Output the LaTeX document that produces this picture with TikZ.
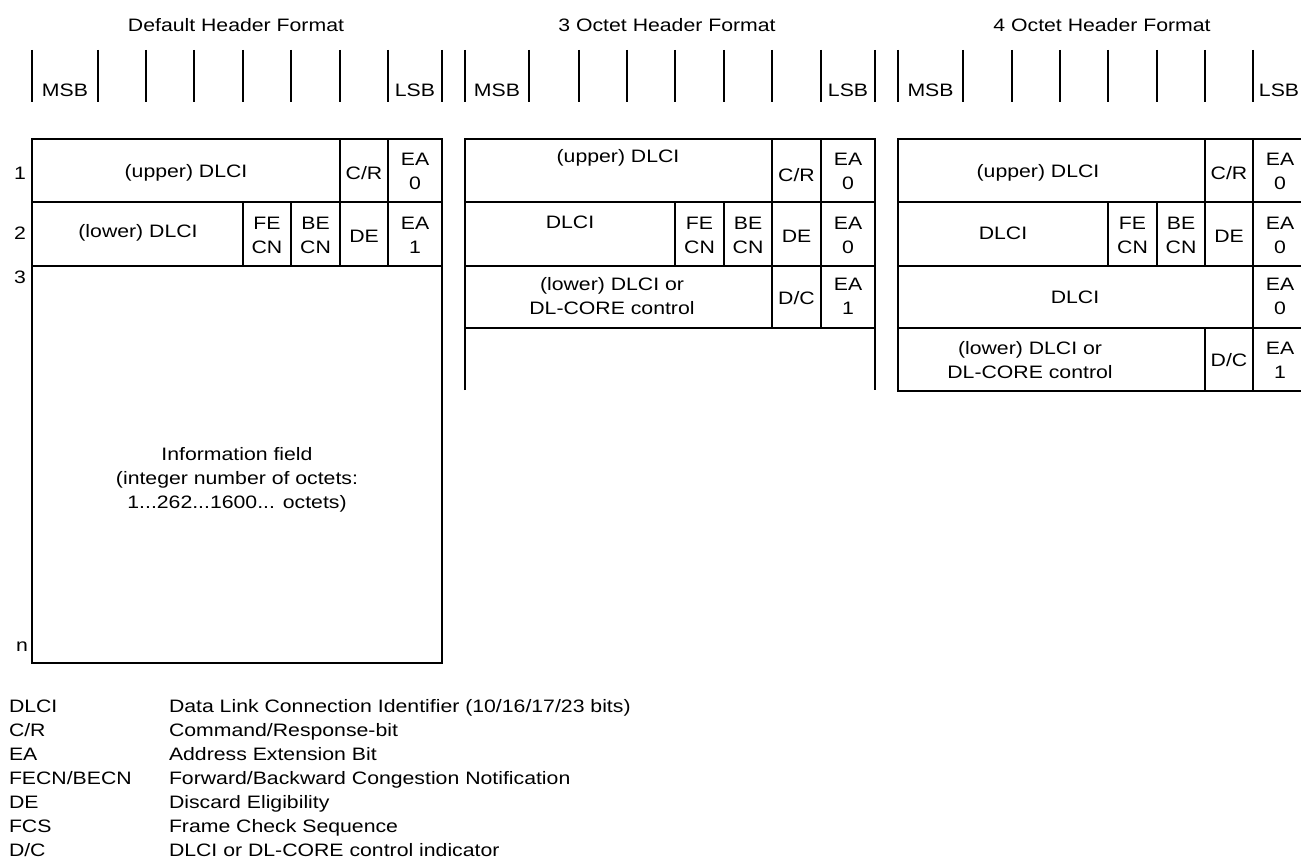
\documentclass[tikz,border=0pt]{standalone}
\usepackage{fontspec}
\setmainfont{Liberation Sans}[FakeStretch=1.18]
\begin{document}
\begin{tikzpicture}[x=0.75pt,y=-0.75pt,line width=1.5pt,
  txt/.style={font=\fontsize{13.5}{18}\selectfont,inner sep=0pt,align=center},
  lg/.style={font=\fontsize{13.5}{18}\selectfont,inner sep=0pt,anchor=base west}]
\useasboundingbox (0,0) rectangle (1301,859);
% bit ticks
\foreach \x in {32,98,146,194,243,291,340,388,442,465,529,579,627,675,724,772,821,875,898,963,1012,1060,1108,1157,1205,1253}
  \draw (\x,50) -- (\x,102);
% titles
\node[txt] (t1) at (236,25) {Default Header Format};
\node[txt] (t2) at (667,25) {3 Octet Header Format};
\node[txt] (t3) at (1102,25) {4 Octet Header Format};
\node[txt] (m1) at (65,90) {MSB};
\node[txt] (l1) at (415,90) {LSB};
\node[txt] (m2) at (497,90) {MSB};
\node[txt] (l2) at (848,90) {LSB};
\node[txt] (m3) at (930.5,90) {MSB};
\node[txt] (l3) at (1279,90) {LSB};
% default box
\draw (32,139) rectangle (442,663);
\draw (32,202) -- (442,202);
\draw (32,266) -- (442,266);
\draw (340,139) -- (340,266);
\draw (388,139) -- (388,266);
\draw (243,202) -- (243,266);
\draw (291,202) -- (291,266);
\node[txt] (r1) at (20,173) {1};
\node[txt] (r2) at (20,233) {2};
\node[txt] (r3) at (20,277) {3};
\node[txt] (rn) at (22,647) {n};
\node[txt] (a1) at (186,173) {(upper) DLCI};
\node[txt] (a2) at (364,173) {C/R};
\node[txt] (a3) at (415,171.5) {EA\\0};
\node[txt] (a4) at (138,233) {(lower) DLCI};
\node[txt] (a5) at (267,235) {FE\\CN};
\node[txt] (a6) at (315.5,235) {BE\\CN};
\node[txt] (a7) at (364,236) {DE};
\node[txt] (a8) at (415,235) {EA\\1};
\node[txt] (info) at (237,480) {Information field\\(integer number of octets:\\1...262...1600... octets)};
% 3 octet box
\draw (464.5,390) -- (464.5,139) -- (874.5,139) -- (874.5,390);
\draw (464.5,202) -- (874.5,202);
\draw (464.5,266) -- (874.5,266);
\draw (464.5,328) -- (874.5,328);
\draw (772,139) -- (772,328);
\draw (821,139) -- (821,328);
\draw (675,202) -- (675,266);
\draw (724,202) -- (724,266);
\node[txt] (b1) at (618,158) {(upper) DLCI};
\node[txt] (b2) at (796.5,175) {C/R};
\node[txt] (b3) at (848,171.5) {EA\\0};
\node[txt] (b4) at (570,222) {DLCI};
\node[txt] (b5) at (699.5,235) {FE\\CN};
\node[txt] (b6) at (748,235) {BE\\CN};
\node[txt] (b7) at (796.5,236) {DE};
\node[txt] (b8) at (848,235) {EA\\0};
\node[txt] (b9) at (612,296) {(lower) DLCI or\\DL-CORE control};
\node[txt] (b10) at (796.5,298) {D/C};
\node[txt] (b11) at (848,296) {EA\\1};
% 4 octet box
\draw (1302,139) -- (898,139) -- (898,391) -- (1302,391);
\draw (898,202) -- (1302,202);
\draw (898,266) -- (1302,266);
\draw (898,328) -- (1302,328);
\draw (1253,139) -- (1253,391);
\draw (1205,139) -- (1205,266);
\draw (1205,328) -- (1205,391);
\draw (1108,202) -- (1108,266);
\draw (1157,202) -- (1157,266);
\node[txt] (c1) at (1038,173) {(upper) DLCI};
\node[txt] (c2) at (1229,173) {C/R};
\node[txt] (c3) at (1280,171.5) {EA\\0};
\node[txt] (c4) at (1003,233) {DLCI};
\node[txt] (c5) at (1132.5,235) {FE\\CN};
\node[txt] (c6) at (1181,235) {BE\\CN};
\node[txt] (c7) at (1229,236) {DE};
\node[txt] (c8) at (1280,235) {EA\\0};
\node[txt] (c9) at (1075,297) {DLCI};
\node[txt] (c10) at (1280,296) {EA\\0};
\node[txt] (c11) at (1030,360) {(lower) DLCI or\\DL-CORE control};
\node[txt] (c12) at (1229,360) {D/C};
\node[txt] (c13) at (1280,360) {EA\\1};
% legend
\node[lg] (k1) at (8,712) {DLCI};
\node[lg] (d1) at (168,712) {Data Link Connection Identifier (10/16/17/23 bits)};
\node[lg] (k2) at (8,736) {C/R};
\node[lg] (d2) at (168,736) {Command/Response-bit};
\node[lg] (k3) at (8,760) {EA};
\node[lg] (d3) at (168,760) {Address Extension Bit};
\node[lg] (k4) at (8,784) {FECN/BECN};
\node[lg] (d4) at (168,784) {Forward/Backward Congestion Notification};
\node[lg] (k5) at (8,808) {DE};
\node[lg] (d5) at (168,808) {Discard Eligibility};
\node[lg] (k6) at (8,832) {FCS};
\node[lg] (d6) at (168,832) {Frame Check Sequence};
\node[lg] (k7) at (8,856) {D/C};
\node[lg] (d7) at (168,856) {DLCI or DL-CORE control indicator};
\end{tikzpicture}
\end{document}
